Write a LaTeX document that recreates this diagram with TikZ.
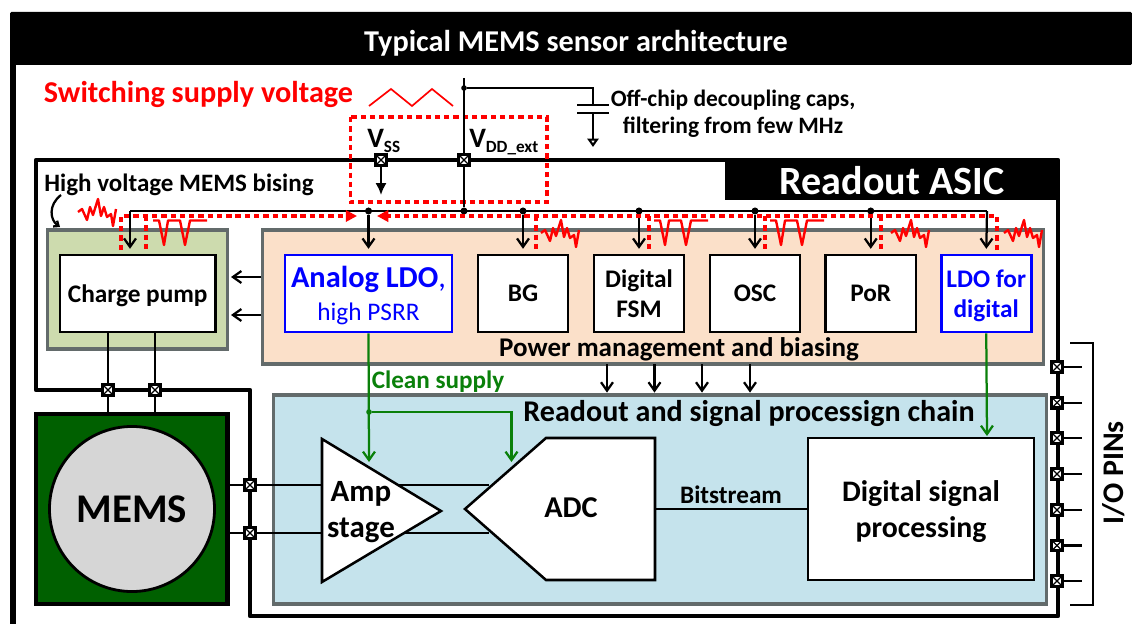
\documentclass[tikz,border=0pt]{standalone}
\usepackage{fontspec}
\setmainfont{Carlito}
\usetikzlibrary{arrows.meta}
\newcommand{\fsz}[2]{\fontsize{#1}{#2}\selectfont\bfseries}
\newcommand{\subtxt}[1]{\raisebox{-3pt}{\fontsize{12.2}{14}\selectfont #1}}
\definecolor{greenbg}{HTML}{CDDBAE}
\definecolor{orangebg}{HTML}{FBE0C9}
\definecolor{bluebg}{HTML}{C5E3EC}
\definecolor{edgegray}{HTML}{636B6B}
\definecolor{memsgreen}{HTML}{006000}
\definecolor{cleangreen}{HTML}{0A800A}
\tikzset{
    block/.style={draw=black, fill=white, line width=1.8pt, minimum width=2.25cm, minimum height=1.925cm, align=center, inner sep=0pt, font=\fsz{18}{21}, text depth=0pt},
    ldoblock/.style={block, draw=blue, text=blue},
    regionbox/.style={draw=edgegray, line width=2.2pt, inner sep=0pt},
    pad/.style={draw=black, fill=white, line width=2.4pt, minimum size=7.5pt, inner sep=0pt, path picture={
        \draw[line width=0.8pt] (path picture bounding box.north west) -- (path picture bounding box.south east);
        \draw[line width=0.8pt] (path picture bounding box.south west) -- (path picture bounding box.north east);}},
    dot/.style={circle, fill=black, minimum size=5pt, inner sep=0pt},
    wire/.style={black, line width=1.6pt},
    asicframe/.style={black, line width=3pt, line join=round},
    power/.style={wire, -{Straight Barb[length=6pt,width=8.5pt,line width=1.6pt]}, shorten >=3.5pt},
    clean/.style={cleangreen, line width=1.6pt},
    cleanarrow/.style={clean, -{Straight Barb[length=6pt,width=8.5pt,line width=1.6pt]}},
    ripple/.style={red, line width=2.2pt, dash pattern=on 3.8pt off 2.8pt},
    noise/.style={red, line width=1.7pt, line join=round},
    txt/.style={inner sep=0pt, align=center, text depth=0pt},
}
\begin{document}
\begin{tikzpicture}[x=0.025cm, y=-0.025cm]
    \useasboundingbox (0, 0) rectangle (1132, 624);
    % outer frame and title
    \draw[black, line width=4.5pt] (13, 40) -- (13, 624);
    \fill[black, rounded corners=1pt] (10, 12) rectangle (1132, 65);
    \node[txt, white, font=\fsz{21.5}{24}] (title) at (576, 41) {Typical MEMS sensor architecture};
    % ASIC outline
    \draw[asicframe] (36, 160) -- (1058, 160) -- (1058, 616) -- (250, 616) -- (250, 390) -- (36, 390) -- cycle;
    \fill[black] (725, 160) rectangle (1059, 200);
    \node[txt, white, font=\fsz{28.5}{30}] (asic) at (892, 180) {Readout ASIC};
    % supply
    \node[txt, red, font=\fsz{21.5}{24}] (switching) at (198.5, 92) {Switching supply voltage};
    \draw[red, line width=1.2pt] (369, 106) -- (391, 89) -- (412, 106) -- (432, 89) -- (453, 106);
    \draw[ripple] (350.5, 117) rectangle (547, 202);
    \node[pad] (vss) at (381, 160) {};
    \node[pad] (vdd) at (464, 160) {};
    \coordinate (railL) at (130, 211);
    \coordinate (railR) at (987, 211);
    \coordinate (vddtop) at (464, 78);
    \coordinate (vssend) at (381, 195);
    \node[dot, minimum size=4pt] (capdot) at (464, 88) {};
    \node[dot] (vddrail) at (464, 211) {};
    \draw[wire] (vddtop) -- (vdd);
    \draw[wire] (vdd) -- (vddrail);
    \draw[wire, -{Latex[length=8.5pt,width=8pt]}] (vss) -- (vssend);
    \draw[wire] (capdot) -- (593, 88) -- (593, 105);
    \draw[wire, line width=2pt] (577, 105) -- (609, 105);
    \draw[wire, line width=2pt] (577, 113) -- (609, 113);
    \draw[wire, -{Triangle[open, length=6pt, width=8pt]}] (593, 113) -- (593, 147);
    \node[txt, font=\fsz{16.7}{19.5}] (decap) at (733, 111.5) {Off-chip decoupling caps,\\filtering from few MHz};
    \node[txt, anchor=base west, font=\fsz{20}{22}] (vsslabel) at (367, 148) {V\subtxt{SS}};
    \node[txt, anchor=base west, font=\fsz{20}{22}] (vddlabel) at (469, 148) {V\subtxt{DD\_ext}};
    \node[txt, font=\fsz{17.8}{20}] (hvlabel) at (179, 183) {High voltage MEMS bising};
    \draw[wire, -{Straight Barb[length=3pt,width=5pt]}] (61, 195) .. controls (48, 205) and (50, 220) .. (60, 227);
    % charge pump and power management
    \node[regionbox, fill=greenbg, minimum width=4.49cm, minimum height=2.975cm] (cpregion) at (137.75, 289.5) {};
    \node[block, minimum width=3.89cm] (cpump) at (137.75, 293.5) {Charge pump};
    \node[regionbox, fill=orangebg, minimum width=19.5cm, minimum height=3.35cm] (pmregion) at (653, 297) {};
    \node[ldoblock, minimum width=4.175cm] (aldo) at (368.5, 293.5) {\fontsize{21.6}{30}\selectfont Analog LDO\textmd{,}\\[2pt]\fontsize{18}{20}\selectfont\mdseries high PSRR};
    \node[block] (bg) at (523, 293.5) {BG};
    \node[block] (fsm) at (639, 293.5) {Digital\\FSM};
    \node[block] (osc) at (755, 293.5) {OSC};
    \node[block] (por) at (870.75, 293.5) {PoR};
    \node[ldoblock] (dldo) at (986.25, 293.5) {LDO for\\digital};
    \node[txt, font=\fsz{19.2}{22}] (pmlabel) at (679, 347) {Power management and biasing};
    \coordinate (cparrowa) at (231, 277);
    \coordinate (cparrowb) at (231, 315);
    \draw[power, shorten >=0pt] (pmregion.west |- cparrowa) -- (cparrowa);
    \draw[power, shorten >=0pt] (pmregion.west |- cparrowb) -- (cparrowb);
    % supply rail
    \draw[wire] (railL) -- (railR);
    \draw[power] (railL) -- (cpump.north -| railL);
    \draw[power] (railR) -- (dldo.north);
    \foreach \railname/\boxname in {raila/aldo, railb/bg, railc/fsm, raild/osc, raile/por}
        {
        \node[dot] (\railname) at (\boxname.north |- railL) {};
        \draw[power] (\railname) -- (\boxname.north);
        }
    % ripple on the rail
    \draw[ripple, -{Triangle[length=8pt,width=8pt]}] (121, 250) -- (121, 216) -- (357, 216);
    \draw[ripple, -{Triangle[length=8pt,width=8pt]}] (997, 250) -- (997, 216) -- (377, 216);
    \foreach \x in {146, 536, 649, 765, 881}
        \draw[ripple] (\x, 216) -- (\x, 250);
    \foreach \x/\y in {78/199, 541/220, 891/220, 1004/220}
        \draw[noise] (\x, \y+13) -- ++(4, -3) -- ++(5, 11) -- ++(3, -13) -- ++(3, 8) -- ++(5, -16) -- ++(3, 17) -- ++(3, -9) -- ++(3, 10) -- ++(4, -3) -- ++(2, 12) -- ++(3, -17);
    \foreach \x in {0, 501, 617}
        \draw[red, line width=1.7pt, line join=round] (153+\x, 220.5) -- (159+\x, 220.5) -- (164+\x, 245) -- (168+\x, 220.5) -- (180+\x, 220.5) -- (185+\x, 245) -- (190+\x, 220.5) -- (207+\x, 220.5);
    % readout chain
    \node[regionbox, fill=bluebg, minimum width=19.3cm, minimum height=5.225cm] (chain) at (660, 499.5) {};
    \foreach \x in {607, 654.5, 702, 750}
        \draw[power, shorten >=1pt] (\x, 364) -- (\x, 394);
    \node[txt, font=\fsz{21.4}{24}] (chainlabel) at (749, 411) {Readout and signal processign chain};
    % MEMS
    \node[draw=black, fill=memsgreen, line width=3pt, minimum width=4.79cm, minimum height=4.75cm, inner sep=0pt] (memsbox) at (131.75, 509) {};
    \node[circle, draw=black, fill=black!16, line width=2pt, minimum size=4.125cm, inner sep=0pt, font=\fsz{29}{32}] (mems) at (132, 509) {MEMS};
    % pads
    \node[pad] (padcpa) at (108, 390) {};
    \node[pad] (padcpb) at (155, 390) {};
    \node[pad] (padsiga) at (250, 485) {};
    \node[pad] (padsigb) at (250, 533) {};
    \draw[wire] (cpump.south -| padcpa) -- (padcpa);
    \draw[wire] (padcpa) -- (memsbox.north -| padcpa);
    \draw[wire] (cpump.south -| padcpb) -- (padcpb);
    \draw[wire] (padcpb) -- (memsbox.north -| padcpb);
    \coordinate (adcina) at (489, 485);
    \coordinate (adcinb) at (489, 533);
    \draw[wire] (memsbox.east |- padsiga) -- (padsiga);
    \draw[wire] (padsiga) -- (adcina);
    \draw[wire] (memsbox.east |- padsigb) -- (padsigb);
    \draw[wire] (padsigb) -- (adcinb);
    % amp, ADC, DSP
    \draw[draw=black, fill=white, line width=1.8pt, line join=miter] (322, 439) -- (441, 511) -- (322, 582) -- cycle;
    \draw[draw=black, fill=white, line width=1.8pt, line join=miter] (465, 509) -- (546, 438) -- (655, 438) -- (655, 580) -- (546, 580) -- cycle;
    \node[txt, font=\fsz{22}{25}] (amp) at (361, 509.5) {Amp\\stage};
    \node[txt, font=\fsz{21.5}{24}] (adc) at (571, 508) {ADC};
    \coordinate (adcout) at (655, 509);
    \node[block, minimum width=5.65cm, minimum height=3.55cm, font=\fsz{21.2}{25.6}] (dsp) at (921, 509) {Digital signal\\processing};
    \draw[wire] (adcout) -- (dsp.west |- adcout);
    \node[txt, font=\fsz{17.9}{20}] (bitstream) at (731, 495) {Bitstream};
    % clean supply
    \node[dot, fill=cleangreen, minimum size=4pt] (cleandot) at (369, 412) {};
    \coordinate (ampsup) at (369, 462);
    \coordinate (adcsup) at (511.5, 462);
    \draw[cleanarrow] (aldo.south) -- (ampsup);
    \draw[cleanarrow] (cleandot) -- (cleandot -| adcsup) -- (adcsup);
    \coordinate (dspsup) at (987, 436);
    \draw[cleanarrow] (dldo.south) -- (dspsup);
    \node[txt, text=cleangreen, font=\fsz{17.9}{20}] (cleanlabel) at (438, 379.5) {Clean supply};
    % I/O pins
    \foreach \i/\y in {1/367, 2/402.7, 3/438, 4/474, 5/510, 6/545.5, 7/581}
        {
        \node[pad] (io\i) at (1057, \y) {};
        \coordinate (ioend\i) at (1082, \y);
        \draw[wire] (io\i) -- (ioend\i);
        }
    \draw[black, line width=1.1pt] (1070, 343) -- (1093, 343) -- (1093, 605) -- (1070, 605);
    \node[txt, rotate=90, font=\fsz{21.3}{24}] (iolabel) at (1113, 473) {I/O PINs};
\end{tikzpicture}
\end{document}
